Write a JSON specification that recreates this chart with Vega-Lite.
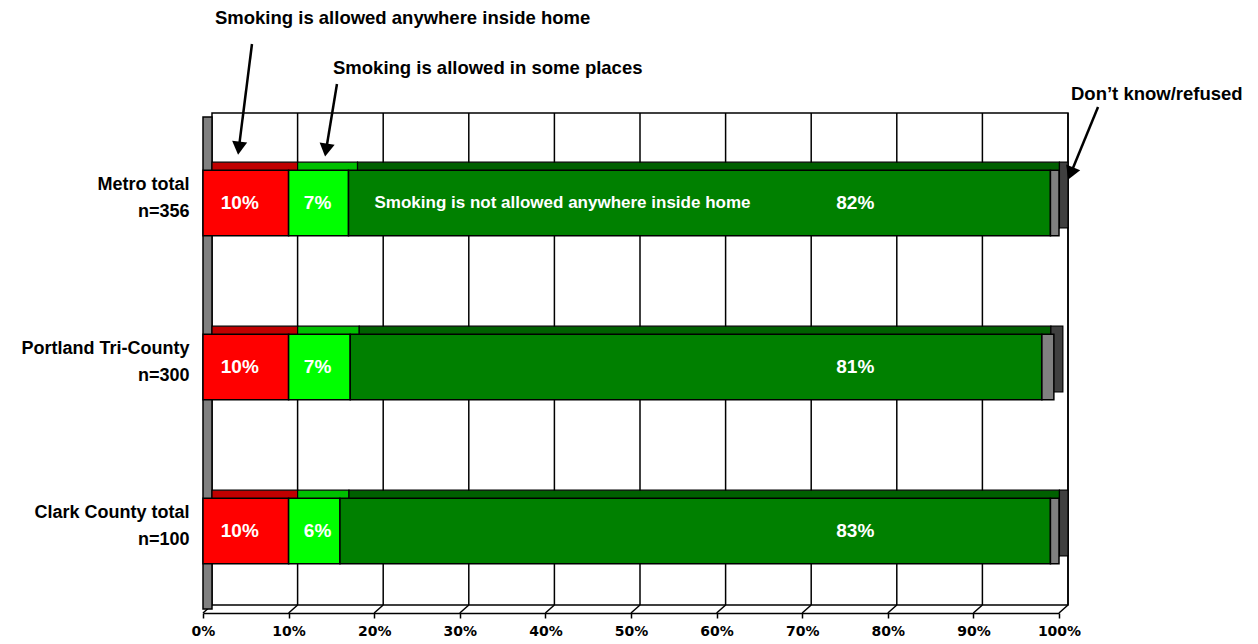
{
  "$schema": "https://vega.github.io/schema/vega-lite/v6.json",
  "width": 856,
  "height": 492,
  "autosize": {"type": "none"},
  "padding": {"left": 203, "top": 121, "right": 199, "bottom": 31},
  "background": "white",
  "config": {"view": {"stroke": null}},
  "datasets": {
    "bars": [
      {"group": "Metro total|n=356", "answer": "Smoking is allowed anywhere inside home", "ord": 1, "value": 10, "label": "10%"},
      {"group": "Metro total|n=356", "answer": "Smoking is allowed in some places", "ord": 2, "value": 7, "label": "7%"},
      {"group": "Metro total|n=356", "answer": "Smoking is not allowed anywhere inside home", "ord": 3, "value": 82, "label": "82%"},
      {"group": "Metro total|n=356", "answer": "Don’t know/refused", "ord": 4, "value": 1, "label": "1%"},
      {"group": "Portland Tri-County|n=300", "answer": "Smoking is allowed anywhere inside home", "ord": 1, "value": 10, "label": "10%"},
      {"group": "Portland Tri-County|n=300", "answer": "Smoking is allowed in some places", "ord": 2, "value": 7.2, "label": "7%"},
      {"group": "Portland Tri-County|n=300", "answer": "Smoking is not allowed anywhere inside home", "ord": 3, "value": 80.8, "label": "81%"},
      {"group": "Portland Tri-County|n=300", "answer": "Don’t know/refused", "ord": 4, "value": 1.4, "label": "1%"},
      {"group": "Clark County total|n=100", "answer": "Smoking is allowed anywhere inside home", "ord": 1, "value": 10, "label": "10%"},
      {"group": "Clark County total|n=100", "answer": "Smoking is allowed in some places", "ord": 2, "value": 6, "label": "6%"},
      {"group": "Clark County total|n=100", "answer": "Smoking is not allowed anywhere inside home", "ord": 3, "value": 83, "label": "83%"},
      {"group": "Clark County total|n=100", "answer": "Don’t know/refused", "ord": 4, "value": 1, "label": "1%"}
    ],
    "ticks": [
      {"pct": 0}, {"pct": 10}, {"pct": 20}, {"pct": 30}, {"pct": 40}, {"pct": 50},
      {"pct": 60}, {"pct": 70}, {"pct": 80}, {"pct": 90}, {"pct": 100}
    ]
  },
  "resolve": {"scale": {"y": "independent"}, "axis": {"y": "independent"}},
  "layer": [
    {
      "layer": [
        {
          "data": {"values": [{}]},
          "mark": {"type": "rect", "fill": "white", "stroke": "black", "strokeWidth": 1.5, "xOffset": 9, "x2Offset": 9, "yOffset": -8, "y2Offset": -8},
          "encoding": {
            "x": {"datum": 0, "type": "quantitative", "scale": {"domain": [0, 100]}},
            "x2": {"datum": 100},
            "y": {"datum": 0, "type": "quantitative", "scale": {"domain": [0, 1], "nice": false}, "axis": null},
            "y2": {"datum": 1}
          }
        },
        {
          "data": {"name": "ticks"},
          "transform": [{"filter": "datum.pct > 0"}],
          "mark": {"type": "rule", "stroke": "black", "strokeWidth": 1.5, "xOffset": 9, "yOffset": -8, "y2Offset": -8},
          "encoding": {
            "x": {"field": "pct", "type": "quantitative"},
            "y": {"datum": 0, "type": "quantitative"},
            "y2": {"datum": 1}
          }
        },
        {
          "data": {"name": "ticks"},
          "mark": {"type": "rule", "stroke": "black", "strokeWidth": 1.5, "xOffset": 9, "yOffset": -8},
          "encoding": {
            "x": {"field": "pct", "type": "quantitative"},
            "x2": {"field": "pct"},
            "y": {"datum": 0, "type": "quantitative"},
            "y2": {"datum": 0}
          }
        },
        {
          "data": {"values": [{}]},
          "mark": {"type": "rect", "fill": "#808080", "stroke": "black", "strokeWidth": 1.5, "x2Offset": 9, "yOffset": -4, "y2Offset": -4},
          "encoding": {
            "x": {"datum": 0, "type": "quantitative"},
            "x2": {"datum": 0},
            "y": {"datum": 0, "type": "quantitative"},
            "y2": {"datum": 1}
          }
        }
      ]
    },
    {
      "data": {"name": "bars"},
      "transform": [
        {"stack": "value", "groupby": ["group"], "sort": [{"field": "ord", "order": "ascending"}], "as": ["x0", "x1"]}
      ],
      "encoding": {
        "x": {
          "field": "x0", "type": "quantitative", "title": null,
          "scale": {"domain": [0, 100], "nice": false, "zero": false},
          "axis": {
            "values": [0, 10, 20, 30, 40, 50, 60, 70, 80, 90, 100],
            "labelExpr": "datum.value + '%'",
            "grid": false, "domainColor": "black", "domainWidth": 1.5,
            "tickColor": "black", "tickWidth": 1.5, "tickSize": 5,
            "labelFont": "DejaVu Sans", "labelFontWeight": "bold", "labelFontSize": 14,
            "labelColor": "black", "labelPadding": 6, "labelFlush": false, "labelOverlap": false
          }
        },
        "y": {
          "field": "group", "type": "nominal", "sort": null, "title": null,
          "scale": {"paddingInner": 0.6, "paddingOuter": 0.3},
          "axis": {
            "orient": "left",
            "domain": false, "ticks": false, "grid": false,
            "labelExpr": "split(datum.label, '|')",
            "labelFont": "Liberation Sans",
            "labelFontWeight": "bold", "labelFontSize": 18, "labelColor": "black",
            "labelPadding": 14, "labelOffset": -18, "labelLineHeight": 27, "labelAlign": "right"
          }
        }
      },
      "layer": [
        {
          "mark": {"type": "bar", "stroke": "black", "strokeWidth": 1.2, "xOffset": 9, "x2Offset": 9, "yOffset": -8, "y2Offset": -8},
          "encoding": {
            "x2": {"field": "x1"},
            "fill": {
              "field": "answer", "type": "nominal", "legend": null,
              "scale": {
                "domain": ["Smoking is allowed anywhere inside home", "Smoking is allowed in some places", "Smoking is not allowed anywhere inside home", "Don’t know/refused"],
                "range": ["#C00000", "#00C000", "#006000", "#404040"]
              }
            }
          }
        },
        {
          "mark": {"type": "bar", "stroke": "black", "strokeWidth": 1.5},
          "encoding": {
            "x2": {"field": "x1"},
            "color": {
              "field": "answer", "type": "nominal", "legend": null,
              "scale": {
                "domain": ["Smoking is allowed anywhere inside home", "Smoking is allowed in some places", "Smoking is not allowed anywhere inside home", "Don’t know/refused"],
                "range": ["#FF0000", "#00FF00", "#008000", "#808080"]
              }
            }
          }
        },
        {
          "transform": [{"filter": "datum.ord == 1"}],
          "mark": {"type": "text", "align": "center", "baseline": "middle", "font": "Liberation Sans", "fontWeight": "bold", "fontSize": 19, "fill": "white"},
          "encoding": {
            "x": {"datum": 4.3, "type": "quantitative"},
            "text": {"field": "label"}
          }
        },
        {
          "transform": [{"filter": "datum.ord == 2"}],
          "mark": {"type": "text", "align": "center", "baseline": "middle", "font": "Liberation Sans", "fontWeight": "bold", "fontSize": 19, "fill": "white", "xOffset": 29},
          "encoding": {
            "x": {"field": "x0", "type": "quantitative"},
            "text": {"field": "label"}
          }
        },
        {
          "transform": [{"filter": "datum.ord == 3"}],
          "mark": {"type": "text", "align": "center", "baseline": "middle", "font": "Liberation Sans", "fontWeight": "bold", "fontSize": 19, "fill": "white"},
          "encoding": {
            "x": {"datum": 76.2, "type": "quantitative"},
            "text": {"field": "label"}
          }
        },
        {
          "transform": [{"filter": "datum.ord == 3 && datum.group == 'Metro total|n=356'"}],
          "mark": {"type": "text", "align": "left", "baseline": "middle", "font": "Liberation Sans", "fontWeight": "bold", "fontSize": 17, "fill": "white", "xOffset": 26},
          "encoding": {
            "x": {"field": "x0", "type": "quantitative"},
            "text": {"field": "answer"}
          }
        }
      ]
    },
    {
      "data": {"values": [{}]},
      "encoding": {
        "y": {"type": "quantitative", "scale": {"domain": [0, 1], "nice": false}, "axis": null}
      },
      "layer": [
        {
          "mark": {"type": "text", "align": "left", "baseline": "middle", "font": "Liberation Sans", "fontWeight": "bold", "fontSize": 18.5, "fill": "black"},
          "encoding": {
            "x": {"datum": 1.4, "type": "quantitative"},
            "y": {"datum": 1.2093, "type": "quantitative"},
            "text": {"value": "Smoking is allowed anywhere inside home"}
          }
        },
        {
          "mark": {"type": "text", "align": "left", "baseline": "middle", "font": "Liberation Sans", "fontWeight": "bold", "fontSize": 18.5, "fill": "black"},
          "encoding": {
            "x": {"datum": 15.19, "type": "quantitative"},
            "y": {"datum": 1.1077, "type": "quantitative"},
            "text": {"value": "Smoking is allowed in some places"}
          }
        },
        {
          "mark": {"type": "text", "align": "left", "baseline": "middle", "font": "Liberation Sans", "fontWeight": "bold", "fontSize": 18.5, "fill": "black"},
          "encoding": {
            "x": {"datum": 101.4, "type": "quantitative"},
            "y": {"datum": 1.0549, "type": "quantitative"},
            "text": {"value": "Don’t know/refused"}
          }
        },
        {
          "mark": {"type": "rule", "stroke": "black", "strokeWidth": 2.5},
          "encoding": {
            "x": {"datum": 5.72, "type": "quantitative"},
            "y": {"datum": 1.1565, "type": "quantitative"},
            "x2": {"datum": 4.19},
            "y2": {"datum": 0.9449}
          }
        },
        {
          "mark": {"type": "rule", "stroke": "black", "strokeWidth": 2.5},
          "encoding": {
            "x": {"datum": 15.65, "type": "quantitative"},
            "y": {"datum": 1.0752, "type": "quantitative"},
            "x2": {"datum": 14.38},
            "y2": {"datum": 0.9409}
          }
        },
        {
          "mark": {"type": "rule", "stroke": "black", "strokeWidth": 2.5},
          "encoding": {
            "x": {"datum": 104.56, "type": "quantitative"},
            "y": {"datum": 1.0285, "type": "quantitative"},
            "x2": {"datum": 101.37},
            "y2": {"datum": 0.8933}
          }
        },
        {
          "mark": {"type": "point", "shape": "triangle-down", "filled": true, "fill": "black", "opacity": 1, "size": 230, "angle": 7},
          "encoding": {
            "x": {"datum": 4.19, "type": "quantitative"},
            "y": {"datum": 0.9449, "type": "quantitative"}
          }
        },
        {
          "mark": {"type": "point", "shape": "triangle-down", "filled": true, "fill": "black", "opacity": 1, "size": 230, "angle": 9},
          "encoding": {
            "x": {"datum": 14.38, "type": "quantitative"},
            "y": {"datum": 0.9409, "type": "quantitative"}
          }
        },
        {
          "mark": {"type": "point", "shape": "triangle-down", "filled": true, "fill": "black", "opacity": 1, "size": 230, "angle": 22},
          "encoding": {
            "x": {"datum": 101.37, "type": "quantitative"},
            "y": {"datum": 0.8933, "type": "quantitative"}
          }
        }
      ]
    }
  ]
}
